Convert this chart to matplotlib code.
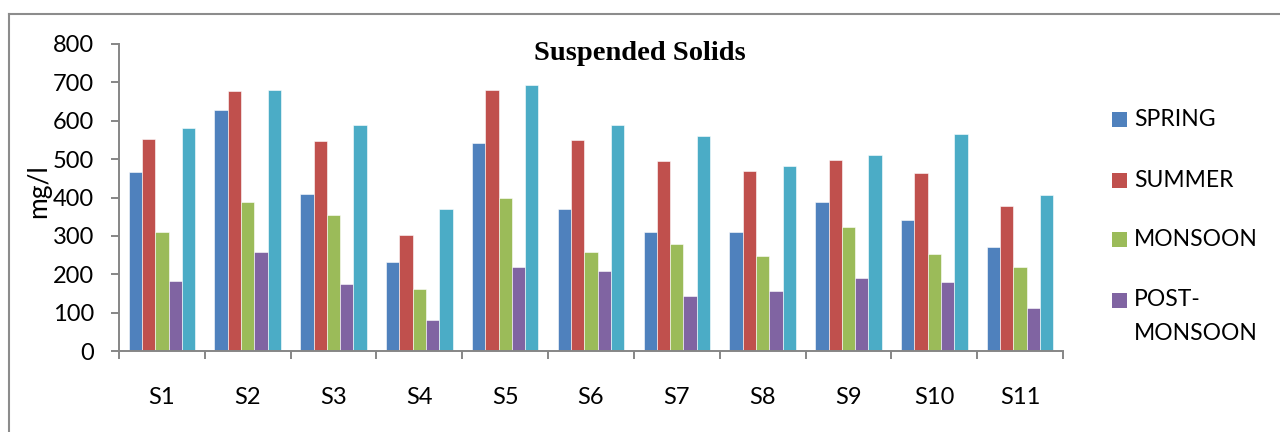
import numpy as np
import matplotlib
matplotlib.use("Agg")
import matplotlib.pyplot as plt
from matplotlib.lines import Line2D
from matplotlib.patches import Rectangle

# values (mg/l)
sites = ["S1", "S2", "S3", "S4", "S5", "S6", "S7", "S8", "S9", "S10", "S11"]
spring = [467, 628, 410, 233, 543, 371, 309, 309, 387, 342, 270]
summer = [553, 677, 547, 302, 680, 551, 494, 470, 499, 464, 377]
monsoon = [311, 387, 354, 162, 399, 259, 278, 248, 322, 252, 219]
post_monsoon = [182, 259, 174, 80, 219, 209, 143, 157, 191, 179, 112]
winter = [580, 680, 589, 371, 694, 590, 560, 481, 512, 566, 407]  # cyan series, not in legend

series_names = ["SPRING", "SUMMER", "MONSOON", "POST-\nMONSOON", None]
series_vals = [spring, summer, monsoon, post_monsoon, winter]
colors = ["#4F81BD", "#C0504D", "#9BBB59", "#8064A2", "#4BACC6"]

plt.rcParams['font.family'] = ['Lato', 'DejaVu Sans']
axis_grey = "#868686"
FW, FH = 1280, 432

fig = plt.figure(figsize=(12.8, 4.32), dpi=100)
ax = fig.add_axes([119 / FW, 81 / FH, (1063 - 119) / FW, (351 - 44) / FH])

x = np.arange(len(sites))
w = 0.155
for i, vals in enumerate(series_vals):
    ax.bar(x + (i - 2) * w, vals, width=w, color=colors[i],
           edgecolor="white", linewidth=0.4, zorder=2)

ax.set_xlim(-0.5, len(sites) - 0.5)
ax.set_ylim(0, 800)
ax.set_yticks(np.arange(0, 801, 100))
ax.set_xticks(x)
ax.set_xticklabels(sites)
ax.set_xticks(np.arange(-0.5, len(sites), 1.0), minor=True)

ax.tick_params(axis="y", labelsize=17, length=6, width=1.4, color=axis_grey,
               direction="out", pad=12)
ax.tick_params(axis="x", which="major", labelsize=17, length=0, pad=26)
ax.tick_params(axis="x", which="minor", length=6, width=1.4, color=axis_grey,
               direction="out")

for s in ["top", "right"]:
    ax.spines[s].set_visible(False)
for s in ["left", "bottom"]:
    ax.spines[s].set_color(axis_grey)
    ax.spines[s].set_linewidth(1.4)

ax.set_ylabel("mg/l", fontsize=19)
ax.yaxis.set_label_coords(-0.072, 0.52)

fig.text(0.5, 1 - 53 / FH, "Suspended Solids", ha="center", va="center",
         fontsize=20.5, fontweight="bold", family="Liberation Serif")

# legend drawn by hand, laid out like the spreadsheet legend
row_y = [119, 180, 240, 300]
for name, col, ry in zip(series_names, colors, row_y):
    fig.add_artist(Rectangle((1112 / FW, 1 - (ry + 7.5) / FH), 15 / FW, 15 / FH,
                             transform=fig.transFigure, facecolor=col,
                             edgecolor="none"))
    for k, line in enumerate(name.split("\n")):
        fig.text(1134 / FW, 1 - (ry + 33 * k) / FH, line, ha="left",
                 va="center", fontsize=16.5)

# chart-area frame (only the top and left edges are inside the picture)
fig.add_artist(Line2D([9 / FW, 1.0], [1 - 14 / FH, 1 - 14 / FH],
                      transform=fig.transFigure, color="#8c8c8c", lw=1.5))
fig.add_artist(Line2D([9 / FW, 9 / FW], [0.0, 1 - 14 / FH],
                      transform=fig.transFigure, color="#8c8c8c", lw=1.5))

fig.savefig("out.png", dpi=100)
